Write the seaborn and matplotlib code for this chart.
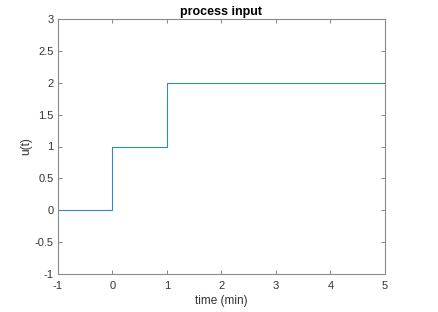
import matplotlib
matplotlib.use("Agg")
import matplotlib.pyplot as plt
import seaborn as sns
import pandas as pd

t = [-1, 0, 1, 5]
u = [0, 1, 2, 2]
xticks = [-1, 0, 1, 2, 3, 4, 5]
yticks = [-1, -0.5, 0, 0.5, 1, 1.5, 2, 2.5, 3]
ytick_labels = ["-1", "-0.5", "0", "0.5", "1", "1.5", "2", "2.5", "3"]

sns.set_theme(style="white")
plt.rcParams['font.family'] = ['Liberation Sans', 'DejaVu Sans']

df = pd.DataFrame({"t": t, "u": u})
fig = plt.figure(figsize=(4.39, 3.12), dpi=100)
ax = fig.add_axes([58/439, 1 - 274/312, (385-58)/439, (274-19)/312])
sns.lineplot(data=df, x="t", y="u", ax=ax, drawstyle="steps-post", color="#2f86c8", linewidth=0.8)

ax.set_xlim(-1, 5)
ax.set_ylim(-1, 3)
ax.set_xticks(xticks)
ax.set_xticklabels([str(x) for x in xticks])
ax.set_yticks(yticks)
ax.set_yticklabels(ytick_labels)
ax.tick_params(direction="in", length=3, width=0.6, color="#777777", labelsize=8,
               labelcolor="#333333", top=True, right=True, bottom=True, left=True)
ax.tick_params(axis="x", pad=5)
ax.tick_params(axis="y", pad=3)
for s in ax.spines.values():
    s.set_color("#8a8a8a")
    s.set_linewidth(0.8)
ax.set_xlabel("time (min)", fontsize=8.5, color="#333333", labelpad=3)
ax.set_ylabel("u(t)", fontsize=8.5, color="#333333", labelpad=2)
ax.set_title("process input", fontsize=9, fontweight="bold", color="black", pad=3)

fig.savefig("out.png", dpi=100)
